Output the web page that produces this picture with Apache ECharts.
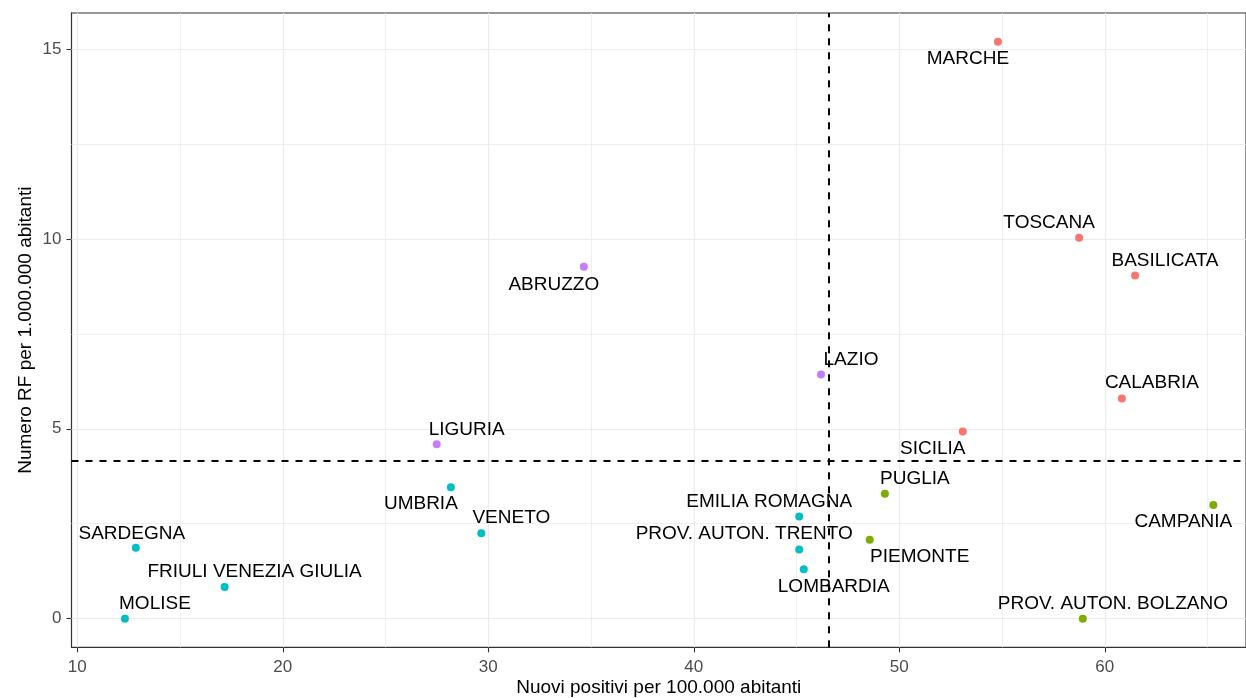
<!DOCTYPE html>
<html>
<head>
<meta charset="utf-8">
<script src="https://cdn.jsdelivr.net/npm/echarts@6/dist/echarts.min.js"></script>
<style>
html,body{margin:0;padding:0;background:#fff;}
#chart{width:1246px;height:698px;}
</style>
</head>
<body>
<div id="chart"></div>
<script>
// ---- data ----
const regions = ["MARCHE","TOSCANA","BASILICATA","CALABRIA","SICILIA",
  "PUGLIA","CAMPANIA","PIEMONTE","PROV. AUTON. BOLZANO",
  "UMBRIA","EMILIA ROMAGNA","VENETO","PROV. AUTON. TRENTO","SARDEGNA","LOMBARDIA","FRIULI VENEZIA GIULIA","MOLISE",
  "ABRUZZO","LAZIO","LIGURIA"];
const positivi = [54.80,58.75,61.47,60.83,53.09,
  49.30,65.28,48.56,58.93,
  28.18,45.13,29.66,45.13,12.85,45.35,17.17,12.32,
  34.65,46.19,27.49];
const numeroRF = [15.19,10.03,9.04,5.80,4.93,
  3.29,2.99,2.08,0.00,
  3.46,2.69,2.25,1.82,1.87,1.30,0.83,0.00,
  9.27,6.43,4.59];
const cluster = [1,1,1,1,1, 2,2,2,2, 3,3,3,3,3,3,3,3, 4,4,4];
const xTicks = [10,20,30,40,50,60];
const yTicks = [0,5,10,15];
const xMinor = [15,25,35,45,55,65];
const yMinor = [2.5,7.5,12.5];
const xMean = 46.55;
const yMean = 4.17;

// ---- styling / layout (not data) ----
const palette = {1:"#F8766D",2:"#7CAE00",3:"#00BFC4",4:"#C77CFF"};
const labelOffsets = [[-30,17],[-30,-15],[30,-15],[30,-16],[-30,17],
  [30,-15],[-30,17],[50,17],[30,-15],
  [-30,17],[-30,-15],[30,-15],[-55,-16],[-4,-14],[30,17],[30,-15],[30,-15],
  [-30,18],[30,-15],[30,-15]];

const FONT = "'Liberation Sans', Arial, sans-serif";
const SYM = 8;

const points = regions.map((r,i)=>({
  name: r,
  value: [positivi[i], numeroRF[i]],
  itemStyle: {color: palette[cluster[i]], opacity:1},
  label: {
    show:true, formatter:r, color:"#000", fontSize:19, fontFamily:FONT,
    position:[SYM/2 + labelOffsets[i][0], SYM/2 + labelOffsets[i][1]],
    align:"center", verticalAlign:"middle"
  }
}));

const gridLines = [];
xTicks.forEach(v=>gridLines.push({xAxis:v, lineStyle:{color:"#EBEBEB", width:1.1, type:"solid"}}));
xMinor.forEach(v=>gridLines.push({xAxis:v, lineStyle:{color:"#EBEBEB", width:0.8, type:"solid"}}));
yTicks.forEach(v=>gridLines.push({yAxis:v, lineStyle:{color:"#EBEBEB", width:1.1, type:"solid"}}));
yMinor.forEach(v=>gridLines.push({yAxis:v, lineStyle:{color:"#EBEBEB", width:0.8, type:"solid"}}));

const chart = echarts.init(document.getElementById('chart'), null, {renderer:'canvas'});
chart.setOption({
  animation:false,
  backgroundColor:"#fff",
  textStyle:{fontFamily:FONT},
  grid:{left:71.5, top:13, right:0, bottom:50.7, outerBoundsMode:"none", containLabel:false,
    show:true, borderColor:"#333333", borderWidth:1.1, backgroundColor:"transparent"},
  xAxis:{
    type:"value", min:9.72, max:66.87,
    name:"Nuovi positivi per 100.000 abitanti", nameLocation:"middle", nameGap:31, nameMoveOverlap:false,
    nameTextStyle:{color:"#000", fontSize:19, fontFamily:FONT},
    axisLine:{show:true, onZero:false, lineStyle:{color:"#333333", width:1.1}},
    axisTick:{show:true, length:5, customValues:xTicks, lineStyle:{color:"#333333", width:1.1}},
    axisLabel:{customValues:xTicks, color:"#4D4D4D", fontSize:17, margin:12, fontFamily:FONT},
    splitLine:{show:false}
  },
  yAxis:{
    type:"value", min:-0.755, max:15.95,
    name:"Numero RF per 1.000.000 abitanti", nameLocation:"middle", nameGap:36, nameRotate:90, nameMoveOverlap:false,
    nameTextStyle:{color:"#000", fontSize:19, fontFamily:FONT},
    axisLine:{show:true, onZero:false, lineStyle:{color:"#333333", width:1.1}},
    axisTick:{show:true, length:5, customValues:yTicks, lineStyle:{color:"#333333", width:1.1}},
    axisLabel:{customValues:yTicks, color:"#4D4D4D", fontSize:17, margin:10, fontFamily:FONT},
    splitLine:{show:false}
  },
  series:[
    {
      type:"scatter", data:[], silent:true, z:1,
      markLine:{silent:true, symbol:["none","none"], label:{show:false}, animation:false, data:gridLines}
    },
    {
      type:"scatter", data:[], silent:true, z:3,
      markLine:{silent:true, symbol:["none","none"], label:{show:false}, animation:false,
        lineStyle:{color:"#000", width:2, type:[7,7]},
        data:[{xAxis:xMean},{yAxis:yMean}]}
    },
    {
      type:"scatter", z:5, symbol:"circle", symbolSize:SYM,
      itemStyle:{opacity:1},
      data:points,
      labelLayout:{hideOverlap:false}
    }
  ]
});
</script>
</body>
</html>
